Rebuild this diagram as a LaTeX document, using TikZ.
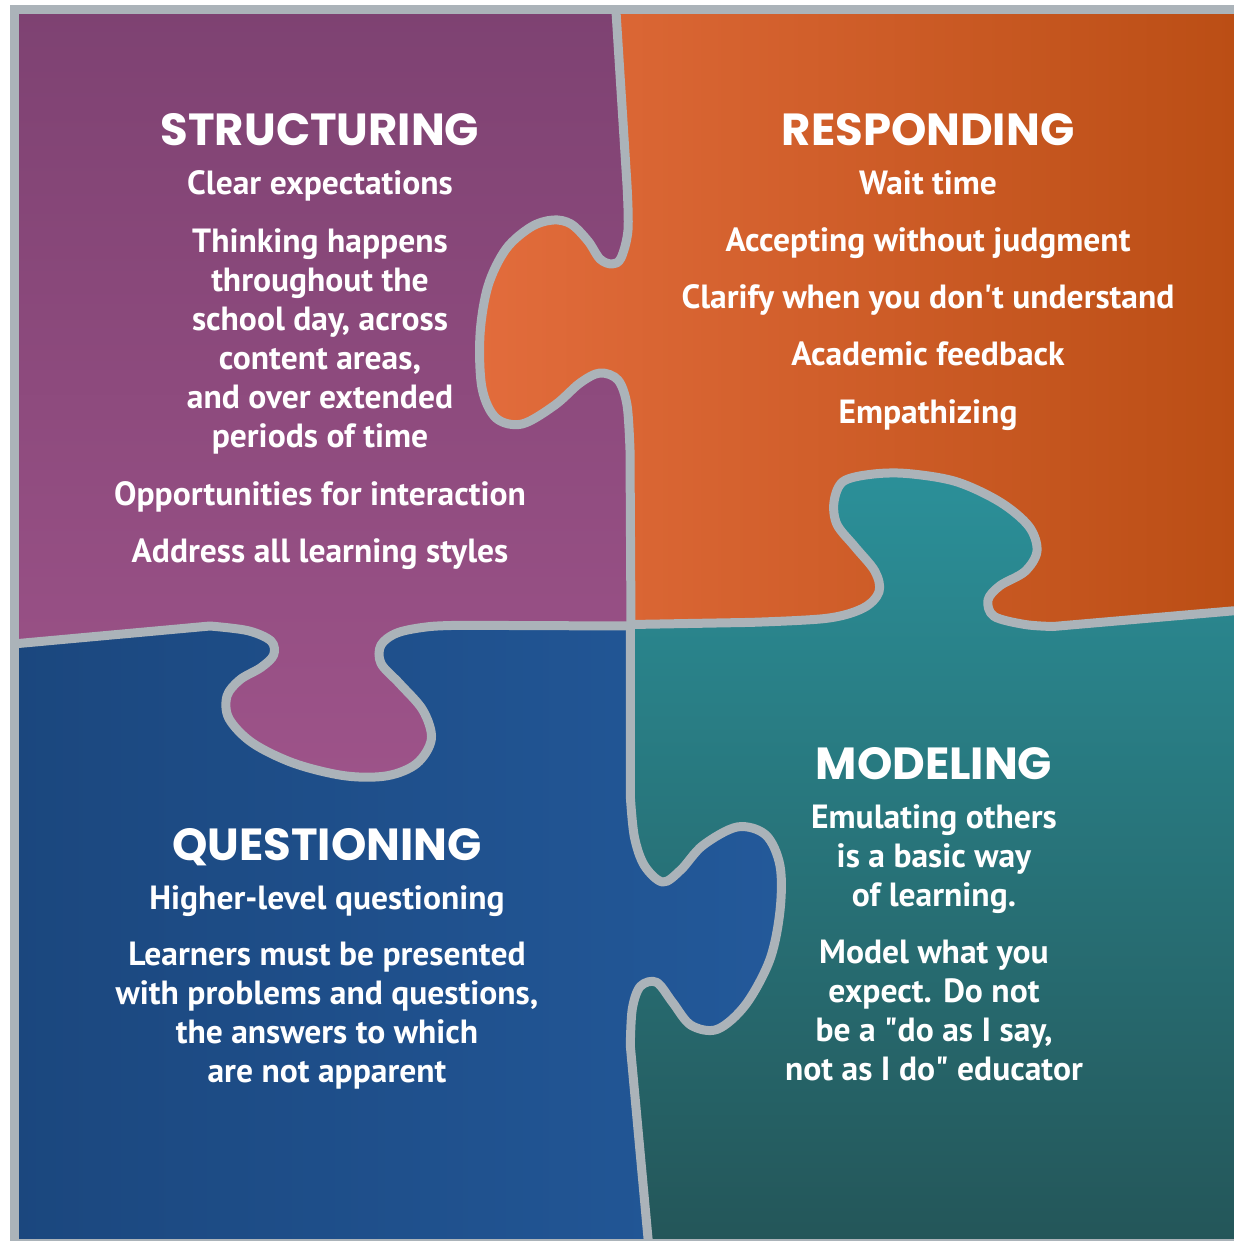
\documentclass[tikz,border=0pt]{standalone}
\usepackage{fontspec}
\setmainfont{PT Sans}
\newfontfamily\headfont{Poppins}
\usetikzlibrary{positioning}
\definecolor{seamgray}{HTML}{ABB3B9}
\definecolor{purpletop}{HTML}{7E4272}
\definecolor{purplebot}{HTML}{9D5389}
\definecolor{orangeleft}{HTML}{E26C3C}
\definecolor{orangeright}{HTML}{BB4E15}
\definecolor{blueleft}{HTML}{1B477E}
\definecolor{blueright}{HTML}{23599A}
\definecolor{tealtop}{HTML}{2B9099}
\definecolor{tealbot}{HTML}{245659}

% the four seams of the puzzle, each one without its first point
\newcommand{\seamtop}{-- (627,185) -- plot[smooth, tension=0.55] coordinates {(627,185) (628,230) (621,258) (612,264) (600,259) (588,241) (571,224) (553,220) (531,227) (506,249) (488,286) (480,335) (482,388) (496,418) (522,424) (555,405) (580,383) (600,373) (618,380) (627,405) (630,450)} -- (631,626)}
\newcommand{\seamleft}{-- (210,626) -- plot[smooth, tension=0.55] coordinates {(210,626) (248,630.7) (271,641) (273.6,655) (261,667.5) (240,679.7) (227,696) (229,718.6) (252.5,743) (294.6,763.5) (345,775.8) (387,775.8) (416.7,763.5) (431.4,739) (423,710.4) (399.8,683.8) (381,663.4) (381,645) (397.7,632.7) (429.3,626.6) (463,625.3)} -- (631,626)}
\newcommand{\seamright}{-- (750,622.4) -- plot[smooth, tension=0.55] coordinates {(750,622.4) (826,618.4) (863,608.2) (879,591.8) (875,571.4) (855,546.9) (837,524.5) (834,502) (843,481.6) (871,474.3) (907,473.5) (956,481.6) (1000,502) (1029,526.5) (1037,551) (1025,571.4) (1000,585.7) (988,600) (994,616.3) (1025,624.5) (1053,626.5)} -- (1260,608.5)}
\newcommand{\seambottom}{-- (630.3,796) -- plot[smooth, tension=0.55] coordinates {(630.3,796) (634.4,837) (644.5,865.7) (662.7,882) (680.9,869.8) (703,845.3) (737.5,826.9) (765.8,835) (780,865.7) (780,910.7) (769.8,959.8) (745.6,1004.7) (717.3,1029.3) (691,1025.2) (672.8,1002.7) (656.6,982.3) (640.4,986.3) (632.3,1008.8) (630.3,1045.6)} -- (650,1260)}

\begin{document}
\begin{tikzpicture}[
    x=0.02cm, y=-0.02cm,
    seam/.style={draw=seamgray, line width=0.18cm, line join=round},
    frame/.style={draw=seamgray, line width=0.18cm},
    head/.style={font=\headfont\bfseries\fontsize{25.6}{30}\selectfont, text=white, anchor=base, inner sep=0pt},
    item/.style={font=\bfseries\fontsize{19.1}{22.1}\selectfont, text=white, align=center, anchor=base, inner sep=0pt}
]
\useasboundingbox (0,0) rectangle (1234,1241);
\fill[white] (0,0) rectangle (1234,1241);
\begin{scope}
\clip (0,0) rectangle (1234,1241);
\begin{scope}
\clip (14.5,9) rectangle (1300,1300);
% structuring
\begin{scope}
\clip (614,-20) \seamtop -- (631,1300) -- (-50,1300) -- (-50,-20) -- cycle;
\clip (-20,647) \seamleft -- (1300,626) -- (1300,-50) -- (-20,-50) -- cycle;
\shade[top color=purpletop, bottom color=purplebot] (14,9) rectangle (631,780);
\end{scope}
% responding
\begin{scope}
\clip (614,-20) \seamtop -- (631,1300) -- (1300,1300) -- (1300,-20) -- cycle;
\clip (-50,624.5) -- (631,624.5) \seamright -- (1300,-50) -- (-50,-50) -- cycle;
\shade[left color=orangeleft, right color=orangeright] (478,9) rectangle (1234,627);
\end{scope}
% questioning
\begin{scope}
\clip (630.3,-50) -- (630.3,626) \seambottom -- (650,1300) -- (-50,1300) -- (-50,-50) -- cycle;
\clip (-20,647) \seamleft -- (1300,626) -- (1300,1300) -- (-20,1300) -- cycle;
\shade[left color=blueleft, right color=blueright] (14,626) rectangle (783,1241);
\end{scope}
% modeling
\begin{scope}
\clip (630.3,-50) -- (630.3,626) \seambottom -- (650,1300) -- (1300,1300) -- (1300,-50) -- cycle;
\clip (-50,624.5) -- (631,624.5) \seamright -- (1300,1300) -- (-50,1300) -- cycle;
\shade[top color=tealtop, bottom color=tealbot] (631,470) rectangle (1234,1241);
\end{scope}
\draw[seam] (614,-20) \seamtop;
\draw[seam] (-20,647) \seamleft;
\draw[seam] (631,624.5) \seamright;
\draw[seam] (630.3,626) \seambottom;
\end{scope}
\draw[frame] (14.5,9) rectangle (1300,1243);
\end{scope}

\node[head] (structuring) at (320,145) {STRUCTURING};
\node[item] (clear) at (320,194) {Clear expectations};
\node[item] (thinking) at (320,447) {Thinking happens\\throughout the\\school day, across\\content areas,\\and over extended\\periods of time};
\node[item] (opportunities) at (320,505) {Opportunities for interaction};
\node[item] (address) at (320,562) {Address all learning styles};

\node[head] (responding) at (928,145) {RESPONDING};
\node[item] (wait) at (928,194) {Wait time};
\node[item] (accepting) at (928,251) {Accepting without judgment};
\node[item] (clarify) at (928,308) {Clarify when you don\textquotesingle t understand};
\node[item] (academic) at (928,365) {Academic feedback};
\node[item] (empathizing) at (928,423) {Empathizing};

\node[head] (questioning) at (327,860) {QUESTIONING};
\node[item] (higher) at (327,909) {Higher-level questioning};
\node[item] (learners) at (327,1082) {Learners must be presented\\with problems and questions,\\the answers to which\\are not apparent};

\node[head] (modeling) at (934,779) {MODELING};
\node[item] (emulating) at (934,906) {Emulating others\\is a basic way\\of learning.};
\node[item] (model) at (934,1080) {Model what you\\expect. Do not\\be a \textquotedbl do as I say,\\not as I do\textquotedbl{} educator};
\end{tikzpicture}
\end{document}
